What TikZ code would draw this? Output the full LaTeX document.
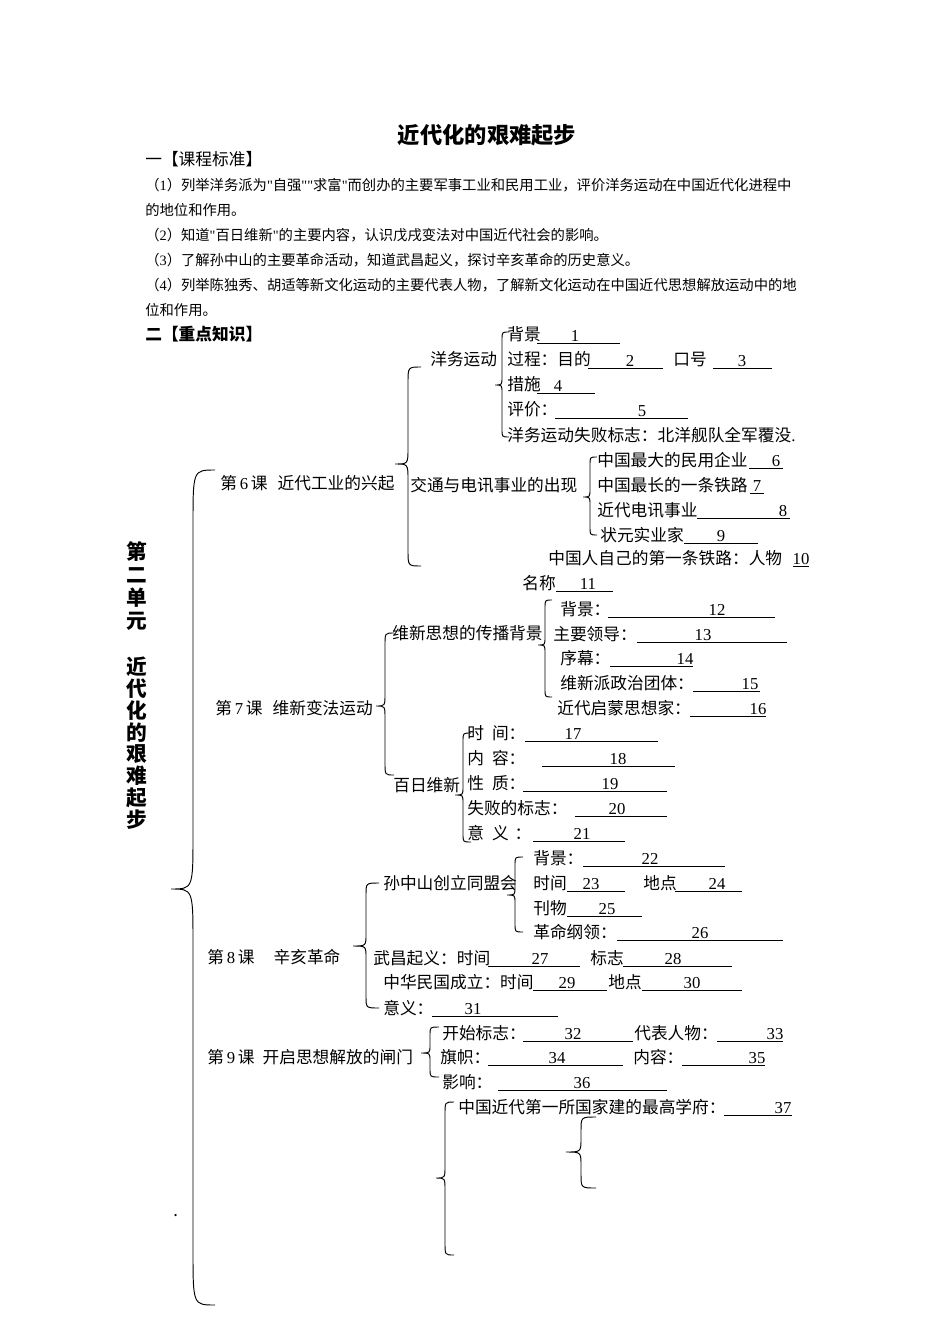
\documentclass[tikz,border=0pt]{standalone}
\usepackage{fontspec}
\setmainfont{Noto Sans CJK SC}
\newfontfamily\numfont{Liberation Serif}
\usepackage{tikz}

\newlength{\pxl}
\setlength{\pxl}{0.0221cm}

% serif digit or quote inside Chinese text
\newcommand{\sd}[1]{{\numfont #1}}
% underlined blank with its number: row, from, to, number x, number
\newcommand{\fillblank}[5]{%
  \draw[uline] (#2,#1+8) -- (#3,#1+8);
  \node[num] (n#5) at (#4,#1) {#5};}
% left curly brace: x, top, tip, bottom, width, bend
\newcommand{\curlybr}[6]{%
  \draw[brc] (#1+#5,#2) .. controls (#1,#2) .. (#1,#2+#6)
    -- (#1,#3-#6) .. controls (#1,#3) .. (#1-#5,#3)
    .. controls (#1,#3) .. (#1,#3+#6)
    -- (#1,#4-#6) .. controls (#1,#4) .. (#1+#5,#4);}

\begin{document}
\begin{tikzpicture}[
  x=0.0221cm, y=-0.0221cm,
  txt/.style={anchor=base west, inner sep=0pt, yshift=-6\pxl, font=\fontsize{10.5}{12}\selectfont},
  num/.style={anchor=base, inner sep=0pt, yshift=-6.5\pxl, font=\numfont\fontsize{10.5}{12}\selectfont},
  hd/.style={anchor=base west, inner sep=0pt, yshift=-5.5\pxl, font=\fontsize{9}{11}\selectfont},
  vt/.style={inner sep=0pt, font=\bfseries\fontsize{13}{15}\selectfont},
  brc/.style={line width=0.6pt},
  uline/.style={line width=0.6pt}
]
\useasboundingbox[fill=white] (0,0) rectangle (950,1344);

% header
\node[font=\bfseries\fontsize{14}{16}\selectfont] (title) at (487,135) {近代化的艰难起步};
\node[txt] (std) at (145,160) {一【课程标准】};
\node[hd] (hd1) at (145,185) {（\sd{1}）列举洋务派为\sd{"}自强\sd{""}求富\sd{"}而创办的主要军事工业和民用工业，评价洋务运动在中国近代化进程中};
\node[hd] (hd2) at (145,210) {的地位和作用。};
\node[hd] (hd3) at (145,235) {（\sd{2}）知道\sd{"}百日维新\sd{"}的主要内容，认识戊戌变法对中国近代社会的影响。};
\node[hd] (hd4) at (145,260) {（\sd{3}）了解孙中山的主要革命活动，知道武昌起义，探讨辛亥革命的历史意义。};
\node[hd] (hd5) at (145,285) {（\sd{4}）列举陈独秀、胡适等新文化运动的主要代表人物，了解新文化运动在中国近代思想解放运动中的地};
\node[hd] (hd6) at (145,310) {位和作用。};
\node[txt, font=\bfseries\fontsize{10.5}{12}\selectfont] (key) at (145,335) {二【重点知识】};

% unit title
\foreach \c [count=\i] in {第,二,单,元}
  \node[vt] (u\i) at (137,{552+23*(\i-1)}) {\c};
\foreach \c [count=\i] in {近,代,化,的,艰,难,起,步}
  \node[vt] (w\i) at (137,{667+21.8*(\i-1)}) {\c};
\node[txt] (dot) at (173,1210) {.};
\curlybr{193}{470}{889}{1305}{22}{55}

% lesson 6
\node[txt] (les6) at (220,483) {第\,\sd{6}\,课\hspace{10\pxl}近代工业的兴起};
\curlybr{408}{367}{464}{566}{13}{16}
\node[txt] (yw) at (430,360) {洋务运动};
\curlybr{502}{332}{385}{437}{7}{8}
\node[txt] (yw1) at (507,335) {背景};
\fillblank{335}{537}{620}{575}{1}
\node[txt] (yw2) at (507,360) {过程：目的};
\fillblank{360}{588}{663}{630}{2}
\node[txt] (yw2b) at (673,360) {口号};
\fillblank{360}{713}{772}{742}{3}
\node[txt] (yw3) at (507,385) {措施};
\fillblank{385}{537}{595}{558}{4}
\node[txt] (yw4) at (507,410) {评价：};
\fillblank{410}{555}{688}{642}{5}
\node[txt] (yw5) at (507,435) {洋务运动失败标志：北洋舰队全军覆没\sd{.}};
\node[txt] (jt) at (410,485) {交通与电讯事业的出现};
\curlybr{590}{457}{497}{535}{7}{8}
\node[txt] (jt1) at (597,460) {中国最大的民用企业};
\fillblank{460}{749}{783}{776}{6}
\node[txt] (jt2) at (597,485) {中国最长的一条铁路};
\fillblank{485}{750}{764}{757}{7}
\node[txt] (jt3) at (597,510) {近代电讯事业};
\fillblank{510}{697}{790}{783}{8}
\node[txt] (jt4) at (600,535) {状元实业家};
\fillblank{535}{684}{758}{721}{9}
\node[txt] (jt5) at (548,558) {中国人自己的第一条铁路：人物};
\fillblank{558}{793}{809}{801}{10}
\node[txt] (jt6) at (522,583) {名称};
\fillblank{583}{556}{613}{588}{11}

% lesson 7
\node[txt] (les7) at (215,708) {第\,\sd{7}\,课\hspace{10\pxl}维新变法运动};
\curlybr{385}{633}{706}{775}{9}{12}
\node[txt] (wx) at (392,633) {维新思想的传播背景};
\curlybr{545}{600}{645}{697}{7}{8}
\node[txt] (wx1) at (560,609) {背景：};
\fillblank{609}{608}{775}{717}{12}
\node[txt] (wx2) at (553,634) {主要领导：};
\fillblank{634}{637}{787}{703}{13}
\node[txt] (wx3) at (560,658) {序幕：};
\fillblank{658}{610}{693}{685}{14}
\node[txt] (wx4) at (560,683) {维新派政治团体：};
\fillblank{683}{693}{760}{750}{15}
\node[txt] (wx5) at (557,708) {近代启蒙思想家：};
\fillblank{708}{690}{766}{758}{16}
\node[txt] (br) at (393,785) {百日维新};
\curlybr{463}{733}{795}{842}{8}{8}
\node[txt] (br1) at (467,733) {时\hspace{8\pxl}间：};
\fillblank{733}{525}{658}{573}{17}
\node[txt] (br2) at (467,758) {内\hspace{8\pxl}容：};
\fillblank{758}{542}{675}{618}{18}
\node[txt] (br3) at (467,783) {性\hspace{8\pxl}质：};
\fillblank{783}{523}{667}{610}{19}
\node[txt] (br4) at (467,808) {失败的标志：};
\fillblank{808}{575}{667}{617}{20}
\node[txt] (br5) at (467,833) {意\hspace{8\pxl}义\hspace{6\pxl}：};
\fillblank{833}{533}{625}{582}{21}

% lesson 8
\node[txt] (les8) at (207,957) {第\,\sd{8}\,课\hspace{19\pxl}辛亥革命};
\curlybr{366}{883}{946}{1008}{13}{12}
\node[txt] (sz) at (383,883) {孙中山创立同盟会};
\curlybr{515}{857}{895}{932}{8}{8}
\node[txt] (sz1) at (533,858) {背景：};
\fillblank{858}{583}{725}{650}{22}
\node[txt] (sz2) at (533,883) {时间};
\fillblank{883}{567}{625}{591}{23}
\node[txt] (sz2b) at (643,883) {地点};
\fillblank{883}{675}{742}{717}{24}
\node[txt] (sz3) at (533,908) {刊物};
\fillblank{908}{567}{642}{607}{25}
\node[txt] (sz4) at (533,932) {革命纲领：};
\fillblank{932}{617}{783}{700}{26}
\node[txt] (wc) at (373,958) {武昌起义：时间};
\fillblank{958}{488}{580}{540}{27}
\node[txt] (wcb) at (590,958) {标志};
\fillblank{958}{623}{732}{673}{28}
\node[txt] (mg) at (383,982) {中华民国成立：时间};
\fillblank{982}{533}{607}{567}{29}
\node[txt] (mgb) at (608,982) {地点};
\fillblank{982}{642}{742}{692}{30}
\node[txt] (yy) at (383,1008) {意义：};
\fillblank{1008}{432}{558}{473}{31}

% lesson 9
\node[txt] (les9) at (207,1057) {第\,\sd{9}\,课\hspace{8\pxl}开启思想解放的闸门};
\curlybr{430}{1027}{1053}{1077}{9}{8}
\node[txt] (xw1) at (442,1033) {开始标志：};
\fillblank{1033}{523}{633}{573}{32}
\node[txt] (xw1b) at (634,1033) {代表人物：};
\fillblank{1033}{717}{783}{775}{33}
\node[txt] (xw2) at (440,1057) {旗帜：};
\fillblank{1057}{488}{623}{557}{34}
\node[txt] (xw2b) at (633,1057) {内容：};
\fillblank{1057}{682}{765}{757}{35}
\node[txt] (xw3) at (442,1082) {影响：};
\fillblank{1082}{498}{667}{582}{36}

% remaining
\curlybr{445}{1102}{1178}{1255}{9}{12}
\node[txt] (bd) at (458,1107) {中国近代第一所国家建的最高学府：};
\fillblank{1107}{724}{792}{783}{37}
\curlybr{581}{1117}{1152}{1188}{15}{14}
\end{tikzpicture}
\end{document}
